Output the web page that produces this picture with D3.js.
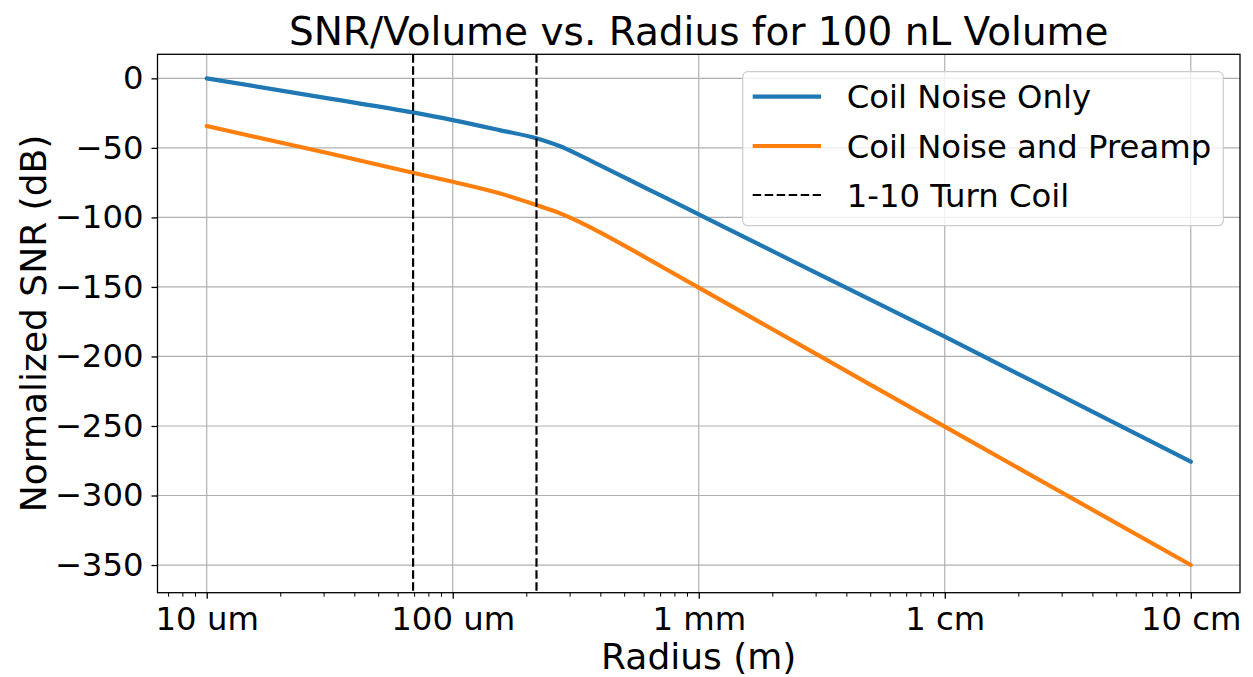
<!DOCTYPE html>
<html>
<head>
<meta charset="utf-8">
<script src="https://cdn.jsdelivr.net/npm/d3@7"></script>
<style>
  html, body { margin: 0; padding: 0; background: #fff; }
  svg { display: block; }
  text { font-family: "DejaVu Sans", sans-serif; fill: #000; }
</style>
</head>
<body>
<svg id="chart" width="1253" height="677"></svg>
<script>
// ---- Data ----
const logRadius = [-5.0, -4.5, -4.162, -4.0, -3.81, -3.66, -3.566, -3.485, -3.405, -3.271, -3.134, -3.0, -2.5, -2.0, -1.5, -1.0];
const coilNoiseOnly = [0.0, -14.6, -24.5, -30.0, -37.2, -43.1, -48.7, -55.2, -62.2, -74.0, -86.0, -97.8, -141.8, -185.8, -230.7, -275.7];
const coilNoisePreamp = [-34.3, -54.0, -67.9, -74.4, -82.7, -91.1, -96.9, -103.2, -110.4, -123.4, -137.1, -150.5, -200.5, -250.5, -300.3, -350.0];
const turnCoilRadii = [6.9e-5, 2.19e-4];
const xTickValues = [1e-5, 1e-4, 1e-3, 1e-2, 1e-1];
const xTickLabels = ["10 um", "100 um", "1 mm", "1 cm", "10 cm"];
const yTickValues = [0, -50, -100, -150, -200, -250, -300, -350];
const seriesNames = ["Coil Noise Only", "Coil Noise and Preamp", "1-10 Turn Coil"];
const seriesColors = ["#1f77b4", "#ff7f0e", "#000000"];

// ---- Layout ----
const svg = d3.select("#chart");
const L = 157.5, R = 1240, T = 54.3, B = 592.7;

const x = d3.scaleLog().domain([Math.pow(10, -5.2), Math.pow(10, -0.8)]).range([L, R]);
const y = d3.scaleLinear().domain([-369.9, 17.3]).range([B, T]);

const tickFont = 32.3;
const labelFont = 36;
const titleFont = 39;

// grid
const grid = svg.append("g");
grid.selectAll("line.gx").data(xTickValues).join("line")
  .attr("x1", d => x(d)).attr("x2", d => x(d)).attr("y1", T).attr("y2", B)
  .attr("stroke", "#b0b0b0").attr("stroke-width", 1.2);
grid.selectAll("line.gy").data(yTickValues).join("line")
  .attr("x1", L).attr("x2", R).attr("y1", d => y(d)).attr("y2", d => y(d))
  .attr("stroke", "#b0b0b0").attr("stroke-width", 1.2);

// clip
svg.append("clipPath").attr("id", "clip").append("rect")
  .attr("x", L).attr("y", T).attr("width", R - L).attr("height", B - T);

const plot = svg.append("g").attr("clip-path", "url(#clip)");

// series
const line = d3.line()
  .x(d => x(Math.pow(10, d[0])))
  .y(d => y(d[1]))
  .curve(d3.curveMonotoneX);

const seriesData = [coilNoiseOnly, coilNoisePreamp];
seriesData.forEach((vals, i) => {
  plot.append("path")
    .datum(logRadius.map((lr, j) => [lr, vals[j]]))
    .attr("fill", "none")
    .attr("stroke", seriesColors[i])
    .attr("stroke-width", 4.2)
    .attr("stroke-linecap", "round")
    .attr("stroke-linejoin", "round")
    .attr("d", line);
});

// dashed vertical lines
plot.selectAll("line.vd").data(turnCoilRadii).join("line")
  .attr("x1", d => x(d)).attr("x2", d => x(d)).attr("y1", T).attr("y2", B)
  .attr("stroke", "#000").attr("stroke-width", 2.2)
  .attr("stroke-dasharray", "8.5,3.5");

// axes
const xAxis = d3.axisBottom(x)
  .tickValues(xTickValues)
  .tickFormat((d, i) => xTickLabels[i])
  .tickSize(6).tickPadding(8);
const gx = svg.append("g").attr("transform", `translate(0,${B})`).call(xAxis);
gx.select(".domain").remove();
gx.selectAll("line").attr("stroke", "#000").attr("stroke-width", 1.3);
gx.selectAll("text").attr("font-size", tickFont).attr("font-family", "DejaVu Sans").attr("dy", "0.71em");

// minor x ticks
const minor = [];
for (let e = -6; e <= -1; e++) {
  for (let m = 2; m <= 9; m++) {
    const v = m * Math.pow(10, e);
    if (v >= x.domain()[0] && v <= x.domain()[1]) minor.push(v);
  }
}
svg.append("g").selectAll("line").data(minor).join("line")
  .attr("x1", d => x(d)).attr("x2", d => x(d)).attr("y1", B).attr("y2", B + 4)
  .attr("stroke", "#000").attr("stroke-width", 1);

const yAxis = d3.axisLeft(y)
  .tickValues(yTickValues)
  .tickFormat(d => d < 0 ? "\u2212" + Math.abs(d) : String(d))
  .tickSize(6).tickPadding(8);
const gy = svg.append("g").attr("transform", `translate(${L},0)`).call(yAxis);
gy.select(".domain").remove();
gy.selectAll("line").attr("stroke", "#000").attr("stroke-width", 1.3);
gy.selectAll("text").attr("font-size", tickFont).attr("font-family", "DejaVu Sans");

// spines
svg.append("rect").attr("x", L).attr("y", T).attr("width", R - L).attr("height", B - T)
  .attr("fill", "none").attr("stroke", "#000").attr("stroke-width", 1.3);

// title & labels
svg.append("text").attr("x", (L + R) / 2).attr("y", 45)
  .attr("text-anchor", "middle").attr("font-size", titleFont)
  .text("SNR/Volume vs. Radius for 100 nL Volume");
svg.append("text").attr("x", (L + R) / 2).attr("y", 669)
  .attr("text-anchor", "middle").attr("font-size", labelFont)
  .text("Radius (m)");
svg.append("text")
  .attr("transform", `translate(46,${(T + B) / 2}) rotate(-90)`)
  .attr("text-anchor", "middle").attr("font-size", labelFont)
  .text("Normalized SNR (dB)");

// legend
const lg = svg.append("g");
lg.append("rect").attr("x", 742.7).attr("y", 71.7).attr("width", 1223.3 - 742.7).attr("height", 225.7 - 71.7)
  .attr("rx", 5).attr("ry", 5)
  .attr("fill", "#fff").attr("fill-opacity", 0.8)
  .attr("stroke", "#cccccc").attr("stroke-width", 1.2);
const rowY = [96.7, 146, 195];
seriesNames.forEach((name, i) => {
  const ly = lg.append("line")
    .attr("x1", 752.7).attr("x2", 821).attr("y1", rowY[i]).attr("y2", rowY[i])
    .attr("stroke", seriesColors[i]);
  if (i < 2) ly.attr("stroke-width", 4.2);
  else ly.attr("stroke-width", 2.2).attr("stroke-dasharray", "8.5,3.5");
  lg.append("text").attr("x", 846.7).attr("y", rowY[i] + 11.7)
    .attr("font-size", tickFont).text(name);
});
</script>
</body>
</html>
